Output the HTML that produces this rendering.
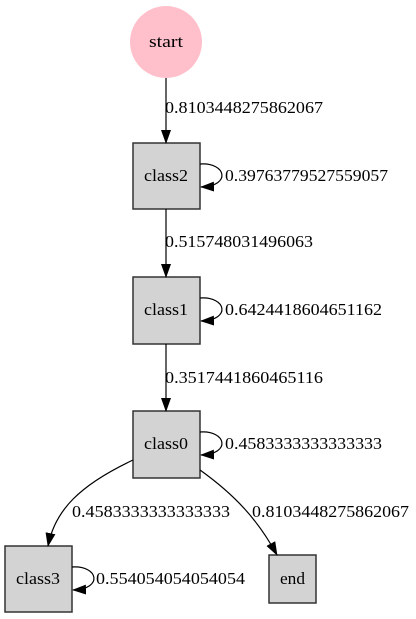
<!DOCTYPE html>
<html><head><style>body{margin:0;background:#fff}svg{display:block}text{font-family:"Liberation Serif",serif;font-size:17px;fill:#000}</style></head>
<body>
<svg width="416" height="619" viewBox="0 0 416 619">
<defs><marker id="b" markerWidth="14" markerHeight="10" refX="13" refY="5" orient="auto" markerUnits="userSpaceOnUse"><path d="M0,0L14,5L0,10z" fill="#000"/></marker></defs>
<circle cx="166" cy="42" r="36" fill="#ffc0cb"/>
<text x="149" y="47" textLength="34" lengthAdjust="spacingAndGlyphs" font-size="15">start</text>
<g fill="#d3d3d3" stroke="#333" stroke-width="1.5">
<rect x="133" y="143" width="67" height="66"/>
<rect x="133" y="277" width="67" height="67"/>
<rect x="133" y="411" width="67" height="67"/>
<rect x="5" y="546" width="67" height="66"/>
<rect x="269" y="555" width="47" height="48"/>
</g>
<text x="144" y="181" textLength="44" lengthAdjust="spacingAndGlyphs">class2</text>
<text x="144" y="315" textLength="44" lengthAdjust="spacingAndGlyphs">class1</text>
<text x="144" y="449" textLength="44" lengthAdjust="spacingAndGlyphs">class0</text>
<text x="16" y="584" textLength="44" lengthAdjust="spacingAndGlyphs">class3</text>
<text x="280" y="584" textLength="25" lengthAdjust="spacingAndGlyphs">end</text>
<g stroke="#000" fill="none" stroke-width="1.2" marker-end="url(#b)">
<line x1="166" y1="78" x2="166" y2="143"/>
<line x1="166" y1="209" x2="166" y2="277"/>
<line x1="166" y1="344" x2="166" y2="411"/>
<path d="M200,164C226,162 232,186 201,187"/>
<path d="M200,298C226,296 232,320 201,321"/>
<path d="M200,432C226,430 232,454 201,455"/>
<path d="M72,567C98,565 104,589 73,590"/>
<path d="M133,460C80,485 55,510 48,546"/>
<path d="M200,470C235,495 258,520 277,555"/>
</g>
<text x="165" y="113" textLength="158" lengthAdjust="spacingAndGlyphs">0.8103448275862067</text>
<text x="225" y="181" textLength="163" lengthAdjust="spacingAndGlyphs">0.39763779527559057</text>
<text x="165" y="247" textLength="148" lengthAdjust="spacingAndGlyphs">0.515748031496063</text>
<text x="225" y="315" textLength="157" lengthAdjust="spacingAndGlyphs">0.6424418604651162</text>
<text x="165" y="383" textLength="158" lengthAdjust="spacingAndGlyphs">0.3517441860465116</text>
<text x="225" y="449" textLength="157" lengthAdjust="spacingAndGlyphs">0.4583333333333333</text>
<text x="72" y="517" textLength="158" lengthAdjust="spacingAndGlyphs">0.4583333333333333</text>
<text x="252" y="517" textLength="157" lengthAdjust="spacingAndGlyphs">0.8103448275862067</text>
<text x="96" y="584" textLength="149" lengthAdjust="spacingAndGlyphs">0.554054054054054</text>
</svg>
</body></html>
